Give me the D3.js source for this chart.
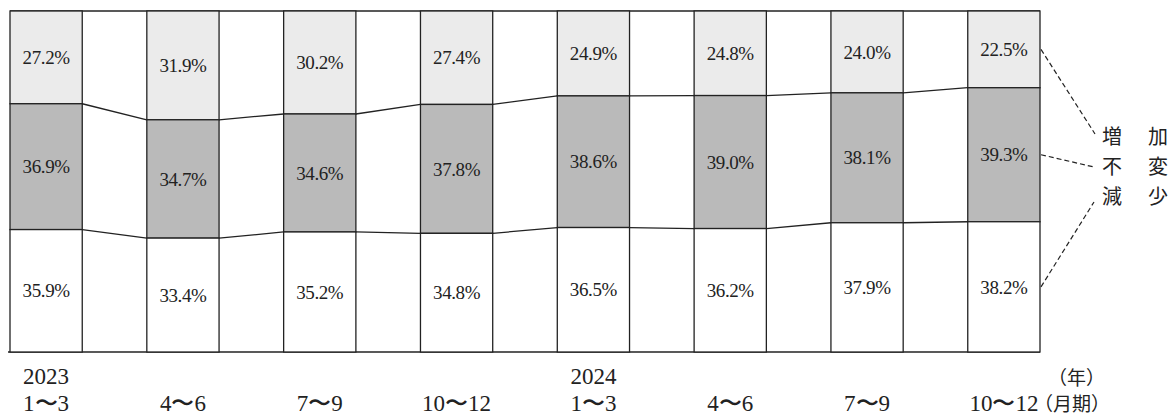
<!DOCTYPE html>
<html><head><meta charset="utf-8">
<script src="https://cdn.jsdelivr.net/npm/d3@7"></script>
<style>
body{margin:0;background:#fff;}
svg{display:block;}
</style></head>
<body>
<svg id="chart" width="1175" height="418"></svg>
<script>
const periods = ["1〜3","4〜6","7〜9","10〜12","1〜3","4〜6","7〜9","10〜12"];
const years = ["2023","","","","2024","","",""];
const increase = [27.2,31.9,30.2,27.4,24.9,24.8,24.0,22.5];
const unchanged = [36.9,34.7,34.6,37.8,38.6,39.0,38.1,39.3];
const decrease = [35.9,33.4,35.2,34.8,36.5,36.2,37.9,38.2];
const seriesNames = [["増","加"],["不","変"],["減","少"]];

(function(){
const svg = d3.select("#chart");
const mLeft = 10, mRight = 1040, mTop = 11, mBottom = 352;
const idx = d3.range(periods.length);
const x = d3.scaleBand().domain(idx).range([mLeft, mRight]).paddingInner(0.472).paddingOuter(0);
const y = d3.scaleLinear().domain([0,100]).range([mTop, mBottom]);
const bw = x.bandwidth();

const rows = idx.map(i => ({i, inc: increase[i], unc: unchanged[i], dec: decrease[i]}));
const stack = d3.stack().keys(["inc","unc","dec"]);
const series = stack(rows);
const fills = ["#ebebeb", "#bababa", "#ffffff"];
const numFont = "'Liberation Serif', 'DejaVu Serif', serif";
const cjkFont = "'Noto Sans CJK JP', sans-serif";

// frame top and bottom
svg.append("line").attr("x1", mLeft).attr("x2", x(idx.length-1)+bw).attr("y1", y(0)).attr("y2", y(0))
  .attr("stroke", "#222").attr("stroke-width", 1.6);
svg.append("line").attr("x1", mLeft-2).attr("x2", x(idx.length-1)+bw).attr("y1", y(100)).attr("y2", y(100))
  .attr("stroke", "#222").attr("stroke-width", 1.6);

// segments
series.forEach((s, k) => {
  svg.append("g").selectAll("rect").data(s).join("rect")
    .attr("x", d => x(d.data.i)).attr("width", bw)
    .attr("y", d => y(d[0])).attr("height", d => y(d[1]) - y(d[0]))
    .attr("fill", fills[k]).attr("stroke", "#222").attr("stroke-width", 1.3);
  svg.append("g").selectAll("text").data(s).join("text")
    .attr("x", d => x(d.data.i) + bw/2)
    .attr("y", d => (y(d[0]) + y(d[1]))/2)
    .attr("dy", "0.35em")
    .attr("text-anchor", "middle")
    .attr("font-family", numFont).attr("font-size", 19).attr("letter-spacing", -0.4)
    .attr("fill", "#222")
    .text(d => (d[1]-d[0]).toFixed(1) + "%");
});

// connectors
[0,1].forEach(k => {
  const s = series[k];
  for (let i = 0; i < s.length - 1; i++) {
    svg.append("line")
      .attr("x1", x(i) + bw).attr("y1", y(s[i][1]))
      .attr("x2", x(i+1)).attr("y2", y(s[i+1][1]))
      .attr("stroke", "#222").attr("stroke-width", 1.3);
  }
});

// bottom labels
const lab = svg.append("g").attr("font-family", numFont).attr("font-size", 23).attr("fill", "#222");
idx.forEach(i => {
  const cx = x(i) + bw/2;
  if (years[i]) lab.append("text").attr("x", cx).attr("y", 384).attr("text-anchor", "middle").text(years[i]);
  lab.append("text").attr("x", cx).attr("y", 411).attr("text-anchor", "middle").text(periods[i]);
});
const lastX = x(idx.length-1) + bw;
lab.append("text").attr("x", lastX - 6).attr("y", 411).attr("font-family", cjkFont).attr("font-size", 19).text("（月期）");
lab.append("text").attr("x", 1048).attr("y", 385).attr("font-family", cjkFont).attr("font-size", 19).text("（年）");

// legend
const last = series.map(s => s[s.length-1]);
const legY = [137, 167, 197];
const leg = svg.append("g").attr("font-family", cjkFont).attr("font-size", 20).attr("fill", "#222");
seriesNames.forEach((n, k) => {
  leg.append("text").attr("x", 1102).attr("y", legY[k]).attr("dy", "0.35em").text(n[0]);
  leg.append("text").attr("x", 1148).attr("y", legY[k]).attr("dy", "0.35em").text(n[1]);
});
const ends = [[1095, 134], [1094, 167], [1094, 202]];
last.forEach((d, k) => {
  svg.append("line")
    .attr("x1", lastX + 1).attr("y1", (y(d[0]) + y(d[1]))/2)
    .attr("x2", ends[k][0]).attr("y2", ends[k][1])
    .attr("stroke", "#222").attr("stroke-width", 1.2).attr("stroke-dasharray", "5,3");
});
})();
</script>
</body></html>
